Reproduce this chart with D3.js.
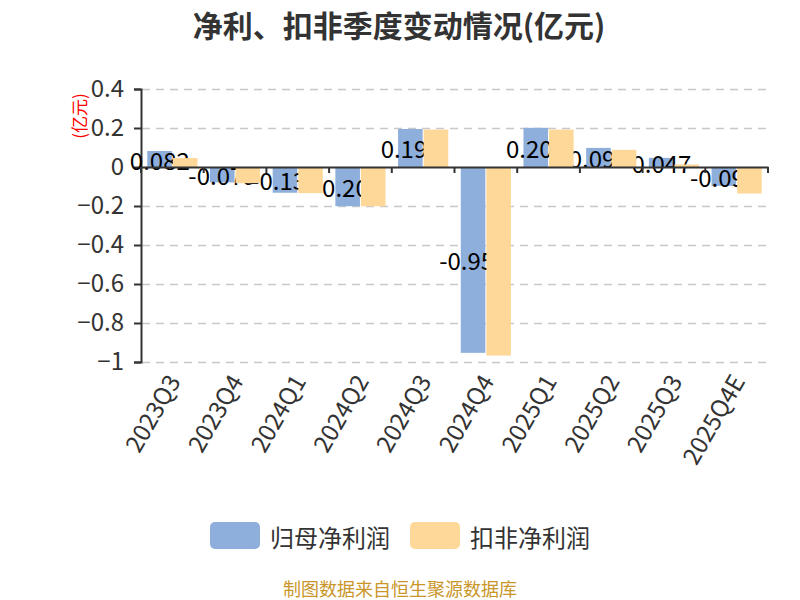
<!DOCTYPE html>
<html>
<head>
<meta charset="utf-8">
<script src="https://cdn.jsdelivr.net/npm/d3@7"></script>
<style>
  html, body { margin: 0; padding: 0; background: #fff; }
  svg { display: block; font-family: "Noto Sans CJK SC", "Noto Sans", sans-serif; }
</style>
</head>
<body>
<svg id="chart" width="800" height="600"></svg>
<script>
const categories = ["2023Q3","2023Q4","2024Q1","2024Q2","2024Q3","2024Q4","2025Q1","2025Q2","2025Q3","2025Q4E"];
const netProfit = [0.082, -0.079, -0.132, -0.201, 0.195, -0.953, 0.201, 0.098, 0.047, -0.097];
const deductedProfit = [0.046, -0.083, -0.134, -0.201, 0.192, -0.967, 0.192, 0.088, 0.013, -0.136];
const seriesNames = ["归母净利润", "扣非净利润"];
const seriesColors = ["#8eaedb", "#fed898"];
const yTicks = [0.4, 0.2, 0, -0.2, -0.4, -0.6, -0.8, -1];
const titleText = "净利、扣非季度变动情况(亿元)";
const unitText = "(亿元)";
const sourceText = "制图数据来自恒生聚源数据库";

const svg = d3.select("#chart");
const plotLeft = 141, plotRight = 768, plotTop = 89, plotBottom = 362;

const x = d3.scaleBand().domain(categories).range([plotLeft, plotRight]).paddingInner(0.2).paddingOuter(0.1);
const xb = d3.scaleBand().domain([0, 1]).range([0, x.bandwidth()]);
const y = d3.scaleLinear().domain([-1, 0.4]).range([plotBottom, plotTop]);

// title
svg.append("text").attr("x", 399).attr("y", 24)
  .attr("text-anchor", "middle").attr("dominant-baseline", "central")
  .attr("font-size", 30).attr("font-weight", "bold").attr("fill", "#333")
  .text(titleText);

// grid
svg.append("g").selectAll("line").data(yTicks.filter(d => d !== 0)).join("line")
  .attr("x1", plotLeft + 1).attr("x2", plotRight)
  .attr("y1", d => Math.round(y(d)) + 0.5).attr("y2", d => Math.round(y(d)) + 0.5)
  .attr("stroke", "#c8c8c8").attr("stroke-width", 1.5).attr("stroke-dasharray", "8,6");

// y axis
const yAxis = d3.axisLeft(y).tickValues(yTicks).tickSize(7).tickPadding(10)
  .tickFormat(d => d3.format("")(d));
const gy = svg.append("g").attr("transform", `translate(${plotLeft},0)`).call(yAxis);
gy.select(".domain").attr("stroke", "#333").attr("stroke-width", 2);
gy.selectAll(".tick line").attr("stroke", "#333").attr("stroke-width", 2);
gy.selectAll(".tick text").attr("font-size", 24).attr("fill", "#333")
  .attr("font-family", "'Noto Sans CJK SC', 'Noto Sans', sans-serif");

// unit label
svg.append("text").attr("transform", `translate(78,116) rotate(-90)`)
  .attr("text-anchor", "middle").attr("dominant-baseline", "central")
  .attr("font-size", 17).attr("fill", "#ff0000").text(unitText);

// bars: series 0
const g0 = svg.append("g");
g0.selectAll("rect").data(netProfit).join("rect")
  .attr("x", (d, i) => x(categories[i]) + xb(0))
  .attr("width", xb.bandwidth() - 0.5)
  .attr("y", d => Math.min(y(d), y(0)))
  .attr("height", d => Math.abs(y(d) - y(0)))
  .attr("fill", seriesColors[0]);

// labels for series 0
g0.selectAll("text").data(netProfit).join("text")
  .attr("x", (d, i) => x(categories[i]) + xb(0) + xb.bandwidth() / 2)
  .attr("y", d => (y(d) + y(0)) / 2)
  .attr("text-anchor", "middle").attr("dominant-baseline", "central")
  .attr("font-size", 24).attr("fill", "#000")
  .text(d => String(d));

// bars: series 1
svg.append("g").selectAll("rect").data(deductedProfit).join("rect")
  .attr("x", (d, i) => x(categories[i]) + xb(1) + 0.5)
  .attr("width", xb.bandwidth() - 0.5)
  .attr("y", d => Math.min(y(d), y(0)))
  .attr("height", d => Math.abs(y(d) - y(0)))
  .attr("fill", seriesColors[1]);

// x axis (at zero)
const xAxis = d3.axisBottom(x).tickSize(0).tickFormat("");
const gx = svg.append("g").attr("transform", `translate(0,${y(0)})`).call(xAxis);
gx.select(".domain").attr("stroke", "#333").attr("stroke-width", 2);
const bounds = categories.map(c => x(c) - x.step() * x.paddingInner() / 2).concat([plotRight]);
gx.selectAll(".bt").data(bounds).join("line").attr("class", "bt")
  .attr("x1", d => d).attr("x2", d => d).attr("y1", 0).attr("y2", 6)
  .attr("stroke", "#333").attr("stroke-width", 2);

// rotated category labels
svg.append("g").selectAll("text").data(categories).join("text")
  .attr("transform", d => `translate(${x(d) + x.bandwidth() / 2},${plotBottom + 14}) rotate(-60)`)
  .attr("text-anchor", "end").attr("dominant-baseline", "central")
  .attr("font-size", 24).attr("fill", "#333")
  .text(d => d);

// legend
const legend = svg.append("g");
const legendX = [210, 410];
seriesNames.forEach((name, i) => {
  legend.append("rect").attr("x", legendX[i]).attr("y", 522).attr("width", 50).attr("height", 27)
    .attr("rx", 5).attr("fill", seriesColors[i]);
  legend.append("text").attr("x", legendX[i] + 60).attr("y", 536)
    .attr("dominant-baseline", "central").attr("font-size", 24).attr("fill", "#333").text(name);
});

// source
svg.append("text").attr("x", 400).attr("y", 588)
  .attr("text-anchor", "middle").attr("dominant-baseline", "central")
  .attr("font-size", 18).attr("fill", "#c9962a").text(sourceText);
</script>
</body>
</html>
